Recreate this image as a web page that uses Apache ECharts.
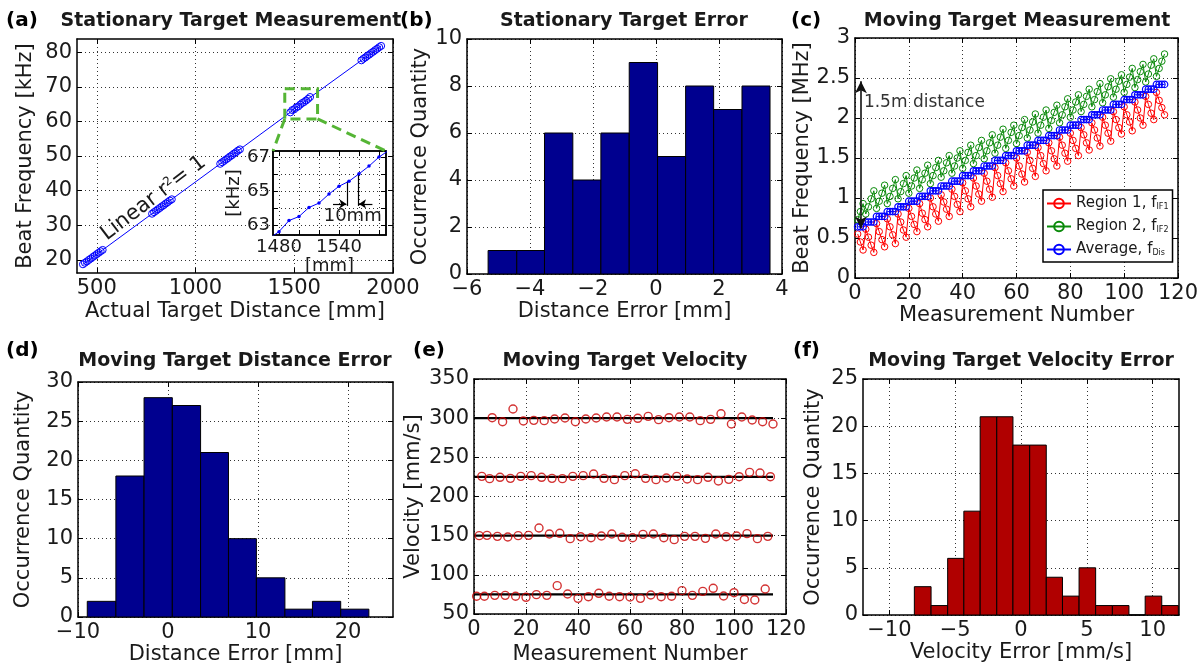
<!DOCTYPE html>
<html>
<head>
<meta charset="utf-8">
<script src="https://cdn.jsdelivr.net/npm/echarts@6/dist/echarts.min.js"></script>
<style>
  html, body { margin: 0; padding: 0; background: #fff; }
  #chart { width: 1203px; height: 668px; }
</style>
</head>
<body>
<div id="chart"></div>
<script>
// ---------- data ----------
// (a) stationary target: distance [mm] vs beat frequency [kHz]
const statDist = [430, 440, 450, 460, 470, 480, 490, 500, 510, 520, 530,
    780, 790, 800, 810, 820, 830, 840, 850, 860, 870, 880,
    1125, 1135, 1145, 1155, 1165, 1175, 1185, 1195, 1205, 1215, 1225,
    1480, 1490, 1500, 1510, 1520, 1530, 1540, 1550, 1560, 1570, 1580,
    1840, 1850, 1860, 1870, 1880, 1890, 1900, 1910, 1920, 1930, 1940];
const statFreq = [18.71, 19.15, 19.53, 19.98, 20.36, 20.82, 21.20, 21.66, 22.05, 22.49, 22.87,
    33.32, 33.78, 34.16, 34.61, 35.00, 35.45, 35.83, 36.29, 36.68, 37.12, 37.50,
    47.74, 48.20, 48.58, 49.03, 49.41, 49.87, 50.25, 50.71, 51.09, 51.55, 51.92,
    62.60, 63.26, 63.50, 64.04, 64.30, 64.84, 65.30, 65.60, 66.04, 66.50, 67.04,
    77.63, 78.09, 78.47, 78.93, 79.30, 79.76, 80.14, 80.60, 80.98, 81.44, 81.81];

// (b) stationary error histogram
const statErrEdges = [-5.33, -4.42, -3.54, -2.64, -1.75, -0.85, 0.05, 0.94, 1.83, 2.73, 3.62];
const statErrCounts = [1, 1, 6, 4, 6, 9, 5, 8, 7, 8];

// (c) moving target beat frequency [MHz], measurement 1..115
const region1 = [0.55, 0.45, 0.35,
    0.61, 0.51, 0.41, 0.32, 0.68, 0.58, 0.48, 0.39, 0.74, 0.64, 0.54, 0.43, 0.80, 0.70, 0.60, 0.51,
    0.87, 0.77, 0.67, 0.58, 0.93, 0.81, 0.73, 0.64, 1.00, 0.89, 0.80, 0.71, 1.04, 0.95, 0.86, 0.77,
    1.11, 1.02, 0.92, 0.83, 1.19, 1.09, 0.99, 0.89, 1.25, 1.15, 1.05, 0.96, 1.31, 1.21, 1.11, 1.01,
    1.38, 1.28, 1.18, 1.08, 1.44, 1.34, 1.24, 1.15, 1.50, 1.40, 1.30, 1.20, 1.57, 1.47, 1.37, 1.27,
    1.63, 1.53, 1.43, 1.34, 1.69, 1.59, 1.49, 1.40, 1.76, 1.66, 1.56, 1.46, 1.81, 1.72, 1.62, 1.53,
    1.88, 1.79, 1.69, 1.60, 1.94, 1.85, 1.75, 1.65, 2.01, 1.91, 1.81, 1.71, 2.08, 1.98, 1.88, 1.80,
    2.14, 2.04, 1.95, 1.84, 2.20, 2.10, 2.00, 1.91, 2.27, 2.17, 2.06, 1.98, 2.32, 2.22, 2.13, 2.04];
const region2 = [0.73, 0.83, 0.93,
    0.80, 0.89, 0.99, 1.09, 0.87, 0.96, 1.06, 1.16, 0.93, 1.02, 1.12, 1.23, 0.99, 1.08, 1.18, 1.28,
    1.06, 1.15, 1.25, 1.35, 1.12, 1.23, 1.31, 1.41, 1.18, 1.28, 1.38, 1.47, 1.26, 1.34, 1.44, 1.53,
    1.31, 1.40, 1.50, 1.59, 1.37, 1.47, 1.57, 1.66, 1.43, 1.53, 1.63, 1.72, 1.49, 1.59, 1.69, 1.79,
    1.56, 1.66, 1.76, 1.86, 1.62, 1.72, 1.82, 1.91, 1.68, 1.78, 1.88, 1.98, 1.75, 1.85, 1.95, 2.05,
    1.81, 1.91, 2.01, 2.10, 1.87, 1.97, 2.07, 2.16, 1.94, 2.04, 2.14, 2.24, 2.01, 2.10, 2.20, 2.29,
    2.08, 2.17, 2.27, 2.36, 2.14, 2.23, 2.33, 2.43, 2.19, 2.29, 2.39, 2.49, 2.26, 2.36, 2.46, 2.54,
    2.32, 2.42, 2.51, 2.62, 2.38, 2.48, 2.58, 2.67, 2.45, 2.55, 2.66, 2.74, 2.52, 2.62, 2.71, 2.80];
const average = [0.64, 0.64, 0.64,
    0.70, 0.70, 0.70, 0.70, 0.77, 0.77, 0.77, 0.77, 0.83, 0.83, 0.83, 0.83, 0.89, 0.89, 0.89, 0.89,
    0.96, 0.96, 0.96, 0.96, 1.02, 1.02, 1.02, 1.02, 1.09, 1.09, 1.09, 1.09, 1.15, 1.15, 1.15, 1.15,
    1.21, 1.21, 1.21, 1.21, 1.28, 1.28, 1.28, 1.28, 1.34, 1.34, 1.34, 1.34, 1.40, 1.40, 1.40, 1.40,
    1.47, 1.47, 1.47, 1.47, 1.53, 1.53, 1.53, 1.53, 1.59, 1.59, 1.59, 1.59, 1.66, 1.66, 1.66, 1.66,
    1.72, 1.72, 1.72, 1.72, 1.78, 1.78, 1.78, 1.78, 1.85, 1.85, 1.85, 1.85, 1.91, 1.91, 1.91, 1.91,
    1.98, 1.98, 1.98, 1.98, 2.04, 2.04, 2.04, 2.04, 2.10, 2.10, 2.10, 2.10, 2.17, 2.17, 2.17, 2.17,
    2.23, 2.23, 2.23, 2.23, 2.29, 2.29, 2.29, 2.29, 2.36, 2.36, 2.36, 2.36, 2.42, 2.42, 2.42, 2.42];
const distArrow = [[2.2, 0.62], [2.2, 2.46]];

// (d) moving target distance error histogram
const movErrEdges = [-8.97, -5.79, -2.66, 0.48, 3.62, 6.72, 9.82, 12.99, 16.05, 19.19, 22.32];
const movErrCounts = [2, 18, 28, 27, 21, 10, 5, 1, 2, 1];

// (e) moving target velocity [mm/s]
const vel75X = [1, 4, 8, 12, 16, 20, 24, 28, 32, 36, 40, 44, 48, 52, 56, 60, 64, 68, 72, 76, 80, 84, 88, 92, 96, 100, 104, 108, 112];
const vel75Y = [72.6, 72.6, 73.8, 73.8, 72.6, 71.3, 74.7, 73.8, 86.2, 75.5, 70.0, 72.1, 76.4, 72.6, 72.1, 71.7, 70.0, 74.3, 72.1, 72.6, 79.8, 73.8, 78.9, 82.8, 73.0, 77.2, 68.6, 67.9, 81.9];
const vel150X = [2, 5, 9, 13, 17, 21, 25, 29, 33, 37, 41, 45, 49, 53, 57, 61, 65, 69, 73, 77, 81, 85, 89, 93, 97, 101, 105, 109, 113];
const vel150Y = [150.0, 150.4, 149.1, 148.3, 150.0, 150.4, 159.8, 152.1, 153.0, 146.2, 148.7, 147.4, 149.6, 152.1, 147.9, 147.4, 151.7, 152.1, 147.4, 144.9, 149.1, 149.1, 146.6, 152.1, 148.7, 149.6, 152.6, 146.2, 149.1];
const vel225X = [3, 6, 10, 14, 18, 22, 26, 30, 34, 38, 42, 46, 50, 54, 58, 62, 66, 70, 74, 78, 82, 86, 90, 94, 98, 102, 106, 110, 114];
const vel225Y = [225.7, 222.8, 224.5, 223.2, 225.7, 226.6, 224.5, 223.2, 222.8, 225.7, 226.6, 228.7, 223.2, 221.5, 226.6, 229.1, 223.2, 221.5, 223.6, 225.7, 222.3, 221.5, 224.5, 219.8, 221.9, 225.3, 230.8, 230.0, 225.3];
const vel300X = [7, 11, 15, 19, 23, 27, 31, 35, 39, 43, 47, 51, 55, 59, 63, 67, 71, 75, 79, 83, 87, 91, 95, 99, 103, 107, 111, 115];
const vel300Y = [300.6, 295.5, 311.7, 296.4, 297.2, 296.8, 298.9, 300.2, 295.5, 298.9, 300.2, 301.5, 301.5, 298.5, 299.8, 302.3, 298.1, 300.6, 301.5, 301.5, 296.8, 298.5, 305.7, 292.6, 301.5, 297.7, 295.5, 292.6];
const velLevels = [75, 150, 225, 300];
const velLineSpan = [0, 115];

// (f) moving target velocity error histogram
const velErrEdges = [-8.10, -6.83, -5.57, -4.34, -3.10, -1.84, -0.61, 0.66, 1.92, 3.15, 4.41, 5.67, 6.94, 8.20, 9.43, 10.69, 11.95];
const velErrCounts = [3, 1, 6, 11, 21, 21, 18, 18, 4, 2, 5, 1, 1, 0, 2, 1];

// inset "10mm" marker
const gapLines = [[1548.4, 64.13, 65.62], [1559, 64.13, 66.08]];
const gapArrows = [[1534, 1547.4, 64.25], [1573.4, 1560, 64.25]];

// ---------- helpers ----------
const FONT = 'DejaVu Sans';
const TXT = '#1a1a1a';
const chart = echarts.init(document.getElementById('chart'));

const xAxes = [], yAxes = [];

function fmt(v) { return String(v).replace('-', '\u2212'); }

function mainAxis(gridIndex, position, s, z) {
    return {
        type: 'value', gridIndex, position, min: s.min, max: s.max, z: z || 0,
        name: s.name, nameLocation: 'middle', nameGap: s.gap,
        nameTextStyle: {fontFamily: FONT, fontSize: s.nameSize || 21, color: TXT},
        axisLine: {show: true, onZero: false, lineStyle: {color: '#000', width: 1.5}},
        axisTick: {show: true, inside: true, length: 5, customValues: s.ticks, lineStyle: {color: '#000', width: 1}},
        axisLabel: {
            customValues: s.labels || s.ticks, margin: s.margin || 5,
            fontFamily: FONT, fontSize: s.labelSize || 21, color: TXT, formatter: fmt
        },
        splitLine: {show: true, lineStyle: {color: '#333', type: [1, 3], width: 1}}
    };
}

function mirrorAxis(gridIndex, position, s, z) {
    return {
        type: 'value', gridIndex, position, min: s.min, max: s.max, z: z || 0,
        axisLine: {show: true, onZero: false, lineStyle: {color: '#000', width: 1.5}},
        axisTick: {show: true, inside: true, length: 5, customValues: s.ticks, lineStyle: {color: '#000', width: 1}},
        axisLabel: {show: false},
        splitLine: {show: false}
    };
}

function addAxes(gridIndex, xs, ys, z) {
    const idx = {x: xAxes.length, y: yAxes.length};
    xAxes.push(mainAxis(gridIndex, 'bottom', xs, z), mirrorAxis(gridIndex, 'top', xs, z));
    yAxes.push(mainAxis(gridIndex, 'left', ys, z), mirrorAxis(gridIndex, 'right', ys, z));
    return idx;
}

function pairs(xs, ys) { return xs.map((x, i) => [x, ys[i]]); }
function histData(edges, counts) { return counts.map((c, i) => [edges[i], edges[i + 1], c]); }

function renderHist(params, api) {
    const a = api.coord([api.value(0), api.value(2)]);
    const b = api.coord([api.value(1), 0]);
    return {
        type: 'rect',
        shape: {x: a[0], y: a[1], width: b[0] - a[0], height: b[1] - a[1]},
        style: {fill: api.visual('color'), stroke: '#000', lineWidth: 1}
    };
}

function histSeries(ax, edges, counts, color) {
    return {
        type: 'custom', xAxisIndex: ax.x, yAxisIndex: ax.y, renderItem: renderHist,
        encode: {x: [0, 1], y: 2}, itemStyle: {color: color},
        data: histData(edges, counts), silent: true
    };
}

function ticksFrom(a, b, step) {
    const out = [];
    for (let v = a; v <= b + 1e-9; v += step) out.push(+v.toFixed(4));
    return out;
}

// ---------- layout ----------
const grids = [
    {left: 77, top: 39, width: 316, height: 234},    // a
    {left: 467, top: 39, width: 315, height: 235},   // b
    {left: 855, top: 38, width: 323, height: 240},   // c
    {left: 78, top: 382, width: 315, height: 235},   // d
    {left: 474, top: 379, width: 312, height: 235},  // e
    {left: 863, top: 379, width: 316, height: 236},  // f
    {left: 273, top: 151, width: 113, height: 84, z: 5, show: true, backgroundColor: '#fff', borderColor: '#000', borderWidth: 1.5} // inset
];

const axA = addAxes(0, {min: 400, max: 2000, ticks: [500, 1000, 1500, 2000], name: 'Actual Target Distance [mm]', gap: 28},
    {min: 16.2, max: 83.8, ticks: ticksFrom(20, 80, 10), name: 'Beat Frequency [kHz]', gap: 41});
const axB = addAxes(1, {min: -6, max: 4, ticks: ticksFrom(-6, 4, 2), name: 'Distance Error [mm]', gap: 27},
    {min: 0, max: 10, ticks: ticksFrom(0, 10, 2), name: 'Occurrence Quantity', gap: 28});
const axC = addAxes(2, {min: 0, max: 120, ticks: ticksFrom(0, 120, 20), name: 'Measurement Number', gap: 23},
    {min: 0, max: 3, ticks: ticksFrom(0, 3, 0.5), name: 'Beat Frequency [MHz]', gap: 37});
const axD = addAxes(3, {min: -10, max: 25, ticks: [-10, 0, 10, 20], name: 'Distance Error [mm]', gap: 25},
    {min: 0, max: 30, ticks: ticksFrom(0, 30, 5), name: 'Occurrence Quantity', gap: 44});
const axE = addAxes(4, {min: 0, max: 120, ticks: ticksFrom(0, 120, 20), name: 'Measurement Number', gap: 30},
    {min: 50, max: 350, ticks: ticksFrom(50, 350, 50), name: 'Velocity [mm/s]', gap: 50});
const axF = addAxes(5, {min: -12, max: 12, ticks: [-10, -5, 0, 5, 10], name: 'Velocity Error [mm/s]', gap: 27},
    {min: 0, max: 25, ticks: ticksFrom(0, 25, 5), name: 'Occurrence Quantity', gap: 39});
const axI = addAxes(6, {min: 1474, max: 1587, ticks: ticksFrom(1480, 1580, 20), labels: [1480, 1540], name: '[mm]', gap: 21, nameSize: 18, labelSize: 18, margin: 3},
    {min: 62.4, max: 67.4, ticks: ticksFrom(63, 67, 1), labels: [63, 65, 67], name: '[kHz]', gap: 30, nameSize: 18, labelSize: 18, margin: 3}, 6);

function titleAt(text, cx, top) {
    return {
        text, left: cx, top, textAlign: 'center', padding: 0,
        textStyle: {fontFamily: FONT, fontSize: 19, fontWeight: 'bold', color: TXT}
    };
}
function letterAt(text, left, top) {
    return {text, left, top, padding: 0, textStyle: {fontFamily: FONT, fontSize: 20, fontWeight: 'bold', color: '#000'}};
}

const circle = (color, size, bw) => ({
    symbol: 'circle', symbolSize: size,
    itemStyle: {color: 'rgba(0,0,0,0)', borderColor: color, borderWidth: bw}
});

const cColors = {r: '#ff0000', g: '#0a8a0a', b: '#0000ff'};
const measPairs = arr => arr.map((v, i) => [i + 1, v]);

const series = [
    // (a)
    Object.assign({
        type: 'line', name: 'stationary', xAxisIndex: axA.x, yAxisIndex: axA.y,
        data: pairs(statDist, statFreq), lineStyle: {color: '#0000ff', width: 1}, z: 2
    }, circle('#0000ff', 7, 1)),
    // inset
    {
        type: 'line', name: 'inset', xAxisIndex: axI.x, yAxisIndex: axI.y, z: 7,
        data: pairs(statDist, statFreq), symbol: 'circle', symbolSize: 3.5,
        itemStyle: {color: '#0000ff'}, lineStyle: {color: '#0000ff', width: 1}, clip: true,
        markLine: {
            silent: true, symbol: 'none', symbolSize: 7, label: {show: false},
            lineStyle: {color: '#000', width: 1.2, type: 'solid'},
            data: gapLines.map(l => [{coord: [l[0], l[1]]}, {coord: [l[0], l[2]]}])
                .concat(gapArrows.map(a => [{coord: [a[0], a[2]], symbol: 'none'}, {coord: [a[1], a[2]], symbol: 'arrow'}]))
        }
    },
    // (b)
    histSeries(axB, statErrEdges, statErrCounts, '#00008f'),
    // (c)
    Object.assign({
        type: 'line', name: 'Region 1', xAxisIndex: axC.x, yAxisIndex: axC.y,
        data: measPairs(region1), lineStyle: {color: cColors.r, width: 1}
    }, circle(cColors.r, 6.5, 1)),
    Object.assign({
        type: 'line', name: 'Region 2', xAxisIndex: axC.x, yAxisIndex: axC.y,
        data: measPairs(region2), lineStyle: {color: cColors.g, width: 1}
    }, circle(cColors.g, 6.5, 1)),
    Object.assign({
        type: 'line', name: 'Average', xAxisIndex: axC.x, yAxisIndex: axC.y,
        data: measPairs(average), lineStyle: {color: cColors.b, width: 1},
        markLine: {
            silent: true, symbol: ['arrow', 'arrow'], symbolSize: [9, 12], label: {show: false},
            lineStyle: {color: '#111', width: 1.6, type: 'solid'},
            data: [[{coord: distArrow[0]}, {coord: distArrow[1]}]]
        }
    }, circle(cColors.b, 6.5, 1.2)),
    // (d)
    histSeries(axD, movErrEdges, movErrCounts, '#00008f'),
    // (f)
    histSeries(axF, velErrEdges, velErrCounts, '#b00000')
];

// (e) reference lines then measured points
velLevels.forEach(lvl => series.push({
    type: 'line', xAxisIndex: axE.x, yAxisIndex: axE.y, symbol: 'none', silent: true,
    data: velLineSpan.map(x => [x, lvl]), lineStyle: {color: '#000', width: 2.2}
}));
[[vel75X, vel75Y], [vel150X, vel150Y], [vel225X, vel225Y], [vel300X, vel300Y]].forEach(p => series.push(
    Object.assign({type: 'scatter', xAxisIndex: axE.x, yAxisIndex: axE.y, data: pairs(p[0], p[1]), z: 3},
        circle('#c80000', 8, 1.4))));

const legendText = {'Region 1': 'Region 1, f{s|IF1}', 'Region 2': 'Region 2, f{s|IF2}', 'Average': 'Average, f{s|Dis}'};

chart.setOption({
    animation: false,
    backgroundColor: '#fff',
    textStyle: {fontFamily: FONT},
    title: [
        letterAt('(a)', 6, 11), letterAt('(b)', 400, 11), letterAt('(c)', 791, 11),
        letterAt('(d)', 6, 341), letterAt('(e)', 413, 341), letterAt('(f)', 793, 341),
        titleAt('Stationary Target Measurement', 231, 12),
        titleAt('Stationary Target Error', 624, 12),
        titleAt('Moving Target Measurement', 1017, 12),
        titleAt('Moving Target Distance Error', 235, 352),
        titleAt('Moving Target Velocity', 625, 352),
        titleAt('Moving Target Velocity Error', 1021, 352)
    ],
    legend: {
        data: ['Region 1', 'Region 2', 'Average'],
        orient: 'vertical', left: 1043, top: 190, itemGap: 8, itemWidth: 24, itemHeight: 12,
        backgroundColor: '#fff', borderColor: '#000', borderWidth: 1.5, padding: [6, 4, 5, 3],
        formatter: n => legendText[n],
        textStyle: {fontFamily: FONT, fontSize: 15, color: TXT, rich: {s: {fontSize: 8, verticalAlign: 'bottom', fontFamily: FONT, color: TXT}}}
    },
    grid: grids,
    xAxis: xAxes,
    yAxis: yAxes,
    series: series
});

// ---------- annotations placed through the axes ----------
const toA = p => chart.convertToPixel({xAxisIndex: axA.x, yAxisIndex: axA.y}, p);
const toC = p => chart.convertToPixel({xAxisIndex: axC.x, yAxisIndex: axC.y}, p);
const toI = p => chart.convertToPixel({xAxisIndex: axI.x, yAxisIndex: axI.y}, p);

const zoomBox = [[1452, 69.4], [1618, 60.7]];
const bTL = toA(zoomBox[0]), bBR = toA(zoomBox[1]);
const iTL = toI([1474, 67.4]), iTR = toI([1587, 67.4]);
const green = {stroke: '#55b535', lineWidth: 3, lineDash: [10, 6], fill: null};
const rLabel = toA([787, 37.8]);
const dLabel = toC([3.3, 2.19]);
const mmLabel = toI([1553.7, 63.54]);

chart.setOption({
    graphic: [
        {type: 'rect', z: 10, shape: {x: bTL[0], y: bTL[1], width: bBR[0] - bTL[0], height: bBR[1] - bTL[1]}, style: green},
        {type: 'line', z: 10, shape: {x1: bTL[0], y1: bBR[1], x2: iTL[0], y2: iTL[1]}, style: green},
        {type: 'line', z: 10, shape: {x1: bBR[0], y1: bBR[1], x2: iTR[0], y2: iTR[1]}, style: green},
        {
            type: 'text', z: 10, x: rLabel[0], y: rLabel[1], rotation: 0.65,
            style: {
                text: 'Linear r{sup|2}= 1', align: 'center', verticalAlign: 'middle',
                font: '21px "DejaVu Sans"', fill: TXT,
                rich: {sup: {fontSize: 12, verticalAlign: 'top', fontFamily: FONT, fill: TXT}}
            }
        },
        {
            type: 'text', z: 10, x: dLabel[0], y: dLabel[1],
            style: {text: '1.5m distance', align: 'left', verticalAlign: 'middle', font: '17px "DejaVu Sans"', fill: '#333'}
        },
        {
            type: 'text', z: 10, x: mmLabel[0], y: mmLabel[1],
            style: {text: '10mm', align: 'center', verticalAlign: 'middle', font: '18px "DejaVu Sans"', fill: TXT}
        }
    ]
});
</script>
</body>
</html>
